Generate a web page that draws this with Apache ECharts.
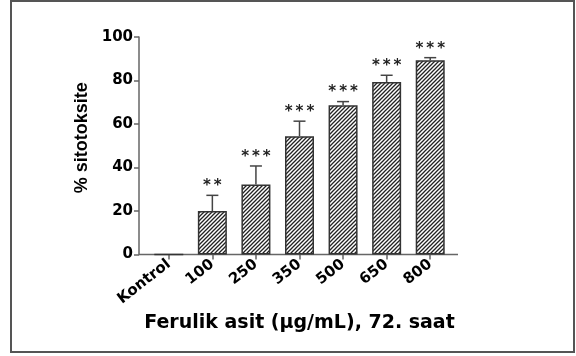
<!DOCTYPE html>
<html>
<head>
<meta charset="utf-8">
<script src="https://cdn.jsdelivr.net/npm/echarts@6/dist/echarts.min.js"></script>
<style>
  html, body { margin: 0; padding: 0; background: #fff; }
  #chart { width: 576px; height: 356px; }
</style>
</head>
<body>
<div id="chart"></div>
<script>
// values
const doses = ['Kontrol', '100', '250', '350', '500', '650', '800'];
const cytotoxicity = [0, 20.0, 32.2, 54.4, 68.6, 79.3, 89.3];
const errors = [0, 7.2, 8.5, 6.9, 1.7, 3.1, 1.2];
const stars = ['', '**', '***', '***', '***', '***', '***'];
const yTicks = [0, 20, 40, 60, 80, 100];

const chart = echarts.init(document.getElementById('chart'));

// diagonal hatch tile for the bars
function hatch() {
    const s = 4;
    const c = document.createElement('canvas');
    c.width = s;
    c.height = s;
    const ctx = c.getContext('2d');
    ctx.fillStyle = '#fff';
    ctx.fillRect(0, 0, s, s);
    ctx.strokeStyle = '#222';
    ctx.lineWidth = 1.3;
    ctx.beginPath();
    ctx.moveTo(0, s); ctx.lineTo(s, 0);
    ctx.moveTo(-1, 1); ctx.lineTo(1, -1);
    ctx.moveTo(s - 1, s + 1); ctx.lineTo(s + 1, s - 1);
    ctx.stroke();
    return c;
}

const hFont = 'DejaVu Sans';

const option = {
    animation: false,
    grid: { left: 147, right: 124, top: 37, bottom: 101.5 },
    xAxis: {
        type: 'category',
        data: doses,
        axisLine: { show: false },
        axisTick: { show: true, alignWithLabel: true, length: 5, lineStyle: { color: '#666', width: 1.5 } },
        axisLabel: {
            rotate: 38, margin: 8, interval: 0,
            fontFamily: hFont, fontWeight: 'bold', fontSize: 15, color: '#000'
        },
        name: 'Ferulik asit (\u00b5g/mL), 72. saat',
        nameLocation: 'middle',
        nameGap: 59,
        nameTextStyle: { fontFamily: hFont, fontWeight: 'bold', fontSize: 19, color: '#000' }
    },
    yAxis: {
        type: 'value',
        min: 0, max: 100, interval: 20,
        offset: 8,
        axisLine: { show: true, lineStyle: { color: '#666', width: 1.5 } },
        axisTick: { show: true, length: 5, lineStyle: { color: '#666', width: 1.5 } },
        splitLine: { show: false },
        axisLabel: {
            margin: 6,
            fontFamily: hFont, fontWeight: 'bold', fontSize: 15, color: '#000',
            formatter: v => yTicks.includes(v) ? String(v) : ''
        },
        name: '% sitotoksite',
        nameLocation: 'middle',
        nameRotate: 90,
        nameGap: 45,
        nameTextStyle: {
            fontFamily: 'Liberation Sans', fontWeight: 'bold', fontSize: 18, color: '#000',
            padding: [0, 0, 0, 16]
        }
    },
    series: [
        {
            type: 'bar',
            data: cytotoxicity,
            barWidth: 29,
            itemStyle: {
                color: { image: hatch(), repeat: 'repeat' },
                borderColor: '#333',
                borderWidth: 1.5
            }
        },
        {
            type: 'custom',
            data: doses.map((d, i) => [i, cytotoxicity[i], errors[i]]),
            z: 3,
            renderItem: function (params, api) {
                const i = api.value(0);
                const mean = api.value(1);
                const err = api.value(2);
                const base = api.coord([i, mean]);
                const top = api.coord([i, mean + err]);
                const half = 6;
                const children = [];
                if (err > 0) {
                    children.push({
                        type: 'line',
                        shape: { x1: base[0], y1: base[1], x2: top[0], y2: top[1] },
                        style: { stroke: '#444', lineWidth: 1.5 }
                    });
                    children.push({
                        type: 'line',
                        shape: { x1: top[0] - half, y1: top[1], x2: top[0] + half, y2: top[1] },
                        style: { stroke: '#444', lineWidth: 1.5 }
                    });
                }
                const label = stars[i];
                if (label) {
                    children.push({
                        type: 'text',
                        style: {
                            // thin spaces between the asterisks, as in the original
                            text: label.split('').join('\u2009'),
                            x: top[0], y: top[1] - 9,
                            align: 'center', verticalAlign: 'middle',
                            font: 'bold 15px "DejaVu Sans"',
                            fill: '#222'
                        }
                    });
                }
                return { type: 'group', children: children };
            }
        }
    ]
};

chart.setOption(option);

// x axis line running from the y axis to just past the last bar, plus the frame
const y0 = chart.convertToPixel({ yAxisIndex: 0 }, 0);
chart.setOption({
    graphic: [
        {
            type: 'line',
            shape: { x1: 139, y1: y0, x2: 458, y2: y0 },
            style: { stroke: '#666', lineWidth: 1.5 }
        },
        {
            type: 'rect',
            shape: { x: 11, y: 1, width: 563, height: 351 },
            style: { fill: 'none', stroke: '#555', lineWidth: 2 }
        }
    ]
});
</script>
</body>
</html>
